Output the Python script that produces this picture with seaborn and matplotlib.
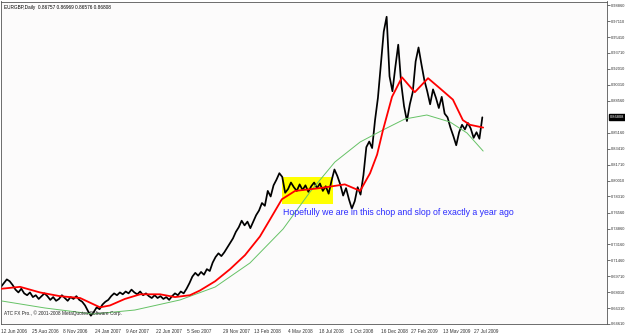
import matplotlib
matplotlib.use("Agg")
import matplotlib.pyplot as plt
import matplotlib.dates as mdates
import matplotlib.transforms as mtransforms
from matplotlib.patches import Rectangle
import pandas as pd
import seaborn as sns

# EURGBP daily chart (one close per week from 12 Jun 2006)
price = [
    0.686, 0.690, 0.694, 0.692, 0.688, 0.683, 0.680, 0.684, 0.679, 0.677,
    0.680, 0.675, 0.677, 0.673, 0.676, 0.679, 0.676, 0.672, 0.675, 0.671,
    0.673, 0.677, 0.674, 0.671, 0.675, 0.673, 0.676, 0.672, 0.670,
    0.666, 0.660, 0.655, 0.659, 0.664, 0.662, 0.667, 0.670, 0.672, 0.676,
    0.679, 0.677, 0.680, 0.678, 0.681, 0.679, 0.683, 0.680, 0.678, 0.681,
    0.677, 0.679, 0.676, 0.674, 0.677, 0.674, 0.676, 0.673, 0.675, 0.672,
    0.676, 0.679, 0.677, 0.681, 0.679, 0.684, 0.690, 0.697, 0.701, 0.698,
    0.702, 0.699, 0.705, 0.703, 0.712, 0.718, 0.722, 0.719, 0.723, 0.728,
    0.733, 0.738, 0.745,
    0.750, 0.757, 0.752, 0.756, 0.749, 0.756, 0.763, 0.768, 0.776, 0.773,
    0.789, 0.783, 0.795, 0.801, 0.808, 0.804, 0.787, 0.791, 0.798, 0.793,
    0.789, 0.796, 0.790, 0.795, 0.788, 0.794, 0.798, 0.792, 0.797, 0.789,
    0.794, 0.786, 0.800, 0.812, 0.805, 0.796, 0.784, 0.792, 0.780, 0.770,
    0.778, 0.793, 0.785, 0.806, 0.836, 0.842, 0.835, 0.865, 0.889, 0.925,
    0.960, 0.976,
    0.912, 0.896, 0.922, 0.946, 0.905, 0.880, 0.864, 0.882, 0.895, 0.928,
    0.943, 0.925, 0.908, 0.896, 0.882, 0.898, 0.889, 0.878, 0.890, 0.872,
    0.868, 0.857, 0.848, 0.838, 0.852, 0.860, 0.855, 0.862, 0.856, 0.846,
    0.852, 0.845, 0.868,
]
price_dates = pd.date_range("2006-06-12", periods=len(price), freq="7D")

# red moving average
red_dates = pd.to_datetime([
    "2006-06-14", "2006-07-28", "2006-09-14", "2006-11-01", "2006-12-20",
    "2007-02-06", "2007-03-02", "2007-04-07", "2007-05-14", "2007-07-01",
    "2007-08-06", "2007-09-11", "2007-10-05", "2007-11-11", "2007-12-17",
    "2008-01-22", "2008-02-27", "2008-03-22", "2008-04-20", "2008-05-22",
    "2008-07-21", "2008-09-19", "2008-10-26", "2008-11-19", "2008-12-06",
    "2008-12-20", "2009-01-11", "2009-02-04", "2009-03-07", "2009-04-08",
    "2009-05-07", "2009-06-07", "2009-07-01", "2009-07-18", "2009-08-19",
])
red_vals = [
    0.684, 0.686, 0.680, 0.676, 0.674, 0.664, 0.666, 0.673, 0.678, 0.678,
    0.675, 0.677, 0.682, 0.692, 0.705, 0.720, 0.740, 0.758, 0.780, 0.789,
    0.792, 0.796, 0.789, 0.808, 0.828, 0.854, 0.890, 0.911, 0.895, 0.910,
    0.899, 0.887, 0.865, 0.860, 0.857,
]

# green long moving average
green_dates = pd.to_datetime([
    "2006-06-14", "2006-09-26", "2007-01-20", "2007-05-01", "2007-08-18",
    "2007-11-11", "2008-02-03", "2008-04-23", "2008-06-27", "2008-08-26",
    "2008-10-26", "2008-12-20", "2009-02-11", "2009-04-05", "2009-05-31",
    "2009-07-11", "2009-08-19",
])
green_vals = [
    0.6708, 0.6633, 0.6568, 0.6611, 0.6719, 0.6858, 0.7116, 0.7481, 0.7878,
    0.8200, 0.8415, 0.8544, 0.8662, 0.8705, 0.8630, 0.8512, 0.8318,
]

box_dates = pd.to_datetime(["2008-04-20", "2008-08-21"])
box_range = [0.7750, 0.8040]

xtick_dates = pd.to_datetime([
    "2006-06-12", "2006-08-25", "2006-11-08", "2007-01-24", "2007-04-09",
    "2007-06-22", "2007-09-05", "2007-11-29", "2008-02-13", "2008-05-04",
    "2008-07-18", "2008-10-01", "2008-12-16", "2009-02-27", "2009-05-13",
    "2009-07-27",
])
xtick_labels = [
    "12 Jun 2006", "25 Aug 2006", "8 Nov 2006", "24 Jan 2007", "9 Apr 2007",
    "22 Jun 2007", "5 Sep 2007", "29 Nov 2007", "13 Feb 2008", "4 May 2008",
    "18 Jul 2008", "1 Oct 2008", "16 Dec 2008", "27 Feb 2009", "13 May 2009",
    "27 Jul 2009",
]
ytick_vals = [0.98860, 0.97110, 0.95410, 0.93710, 0.92010, 0.90310, 0.88560,
              0.85160, 0.83410, 0.81710, 0.80010, 0.78310, 0.76560, 0.74860,
              0.73160, 0.71460, 0.69710, 0.68010, 0.66310, 0.64610]
last_price = 0.86808
title = "EURGBP,Daily  0.86757 0.86969 0.86576 0.86808"
note = "Hopefully we are in this chop and slop of exactly a year ago"
copyright_txt = "ATC FX Pro., \u00a9 2001-2008 MetaQuotes Software Corp."

sns.set_style("white")
plt.rcParams['font.family'] = ['Liberation Sans', 'DejaVu Sans']

fig = plt.figure(figsize=(6.25, 3.33), dpi=100)
fig.patch.set_facecolor('white')
ax = fig.add_axes([1 / 625, 9 / 333, 606 / 625, 322.5 / 333])
ax.set_facecolor('#fcfbfb')

# yellow highlight
x0 = mdates.date2num(box_dates[0])
x1 = mdates.date2num(box_dates[1])
ax.add_patch(Rectangle((x0, box_range[0]), x1 - x0, box_range[1] - box_range[0],
                       facecolor='#ffff00', edgecolor='none', zorder=1))

sns.lineplot(x=price_dates, y=price, ax=ax, color='black', linewidth=1.25, zorder=2)
sns.lineplot(x=green_dates, y=green_vals, ax=ax, color='#66c266', linewidth=0.7, zorder=3)
sns.lineplot(x=red_dates, y=red_vals, ax=ax, color='#ff0000', linewidth=1.3, zorder=4)

ax.set_xlim(pd.Timestamp("2006-06-12"), pd.Timestamp("2010-06-14"))
ax.set_ylim(0.64610, 0.99236)
ax.set_xlabel('')
ax.set_ylabel('')

ax.yaxis.tick_right()
ax.set_yticks(ytick_vals)
ax.set_yticklabels([f"{v:.5f}" for v in ytick_vals])
ax.set_xticks(xtick_dates)
ax.set_xticklabels(xtick_labels, ha='left')
offset = mtransforms.ScaledTranslation(1.5 / 100, 0, fig.dpi_scale_trans)
for lbl in ax.get_xticklabels():
    lbl.set_transform(lbl.get_transform() + offset)

ax.tick_params(axis='x', direction='out', length=2.5, width=0.5,
               labelsize=3.4, colors='#333333', pad=1)
ax.tick_params(axis='y', direction='out', length=2, width=0.5,
               labelsize=2.9, colors='#333333', pad=0.6)
for s in ax.spines.values():
    s.set_color('#555555')
    s.set_linewidth(0.6)

# current price marker
trans = mtransforms.blended_transform_factory(ax.transAxes, ax.transData)
ax.text(1.005, last_price, f"{last_price:.5f}", transform=trans, ha='left', va='center',
        color='white', fontsize=2.9,
        bbox=dict(facecolor='black', edgecolor='black', pad=0.6))

ax.text(0.005, 0.99, title, transform=ax.transAxes, ha='left', va='top',
        fontsize=3.4, color='black')
ax.text(0.005, 0.035, copyright_txt, transform=ax.transAxes, ha='left', va='center',
        fontsize=3.4, color='#222222')
ax.text(mdates.date2num(pd.Timestamp("2008-04-23")), 0.7653, note, ha='left', va='center',
        fontsize=6.3, color='#2b2bff', zorder=5)

fig.savefig('out.png', dpi=100)
